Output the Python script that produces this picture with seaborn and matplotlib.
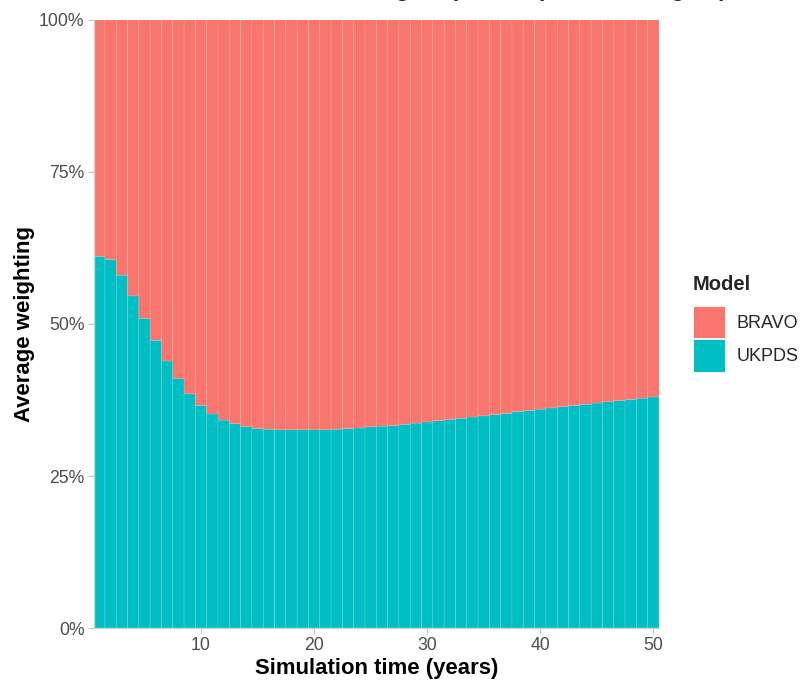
import numpy as np
import pandas as pd
import matplotlib
matplotlib.use("Agg")
import matplotlib.pyplot as plt
from matplotlib.ticker import PercentFormatter
import seaborn as sns

# Simulation years and the average weight given to UKPDS in each year
years = list(range(1, 51))
ukpds_weight = [
    0.611, 0.606, 0.580, 0.546, 0.509, 0.473, 0.439, 0.410, 0.385, 0.366,
    0.352, 0.342, 0.336, 0.331, 0.328, 0.327, 0.326, 0.326, 0.326, 0.326,
    0.326, 0.327, 0.328, 0.329, 0.331, 0.332, 0.333, 0.335, 0.337, 0.339,
    0.341, 0.343, 0.345, 0.347, 0.349, 0.351, 0.353, 0.356, 0.358, 0.360,
    0.362, 0.364, 0.366, 0.368, 0.370, 0.372, 0.374, 0.376, 0.378, 0.380,
]
bravo_weight = [1 - w for w in ukpds_weight]
models = ["BRAVO", "UKPDS"]
colors = {"BRAVO": "#F8766D", "UKPDS": "#00BFC4"}
y_ticks = [0, 0.25, 0.5, 0.75, 1.0]
x_ticks = [10, 20, 30, 40, 50]

df = pd.DataFrame({
    "Year": years * 2,
    "Weight": bravo_weight + ukpds_weight,
    "Model": ["BRAVO"] * len(years) + ["UKPDS"] * len(years),
})

sns.set_theme(style="white")
plt.rcParams["font.family"] = ["Liberation Sans", "DejaVu Sans"]

W, H = 801, 681
fig = plt.figure(figsize=(W / 100, H / 100), dpi=100)
left, right, top, bottom = 93.6, 659.0, 19.5, 628.3
ax = fig.add_axes([left / W, 1 - bottom / H, (right - left) / W, (bottom - top) / H])

sns.histplot(
    data=df, x="Year", weights="Weight", hue="Model", hue_order=models,
    multiple="fill", discrete=True, shrink=1.0, palette=colors, alpha=1,
    edgecolor=(1, 1, 1, 0.15), linewidth=0.5, ax=ax,
)
for p in ax.patches:
    p.set_snap(False)

ax.set_xlim(0.5, 50.5)
ax.set_ylim(0, 1)
ax.set_xticks(x_ticks)
ax.set_yticks(y_ticks)
ax.yaxis.set_major_formatter(PercentFormatter(1, decimals=0))
ax.tick_params(axis="both", which="both", length=4, width=0.8, color="#c4c4c4",
               labelsize=12.7, labelcolor="#4d4d4d", pad=2.5, left=True, bottom=True)

for side in ["top", "right"]:
    ax.spines[side].set_visible(False)
for side in ["left", "bottom"]:
    ax.spines[side].set_color("#d2d2d2")
    ax.spines[side].set_linewidth(1.0)

ax.set_xlabel("Simulation time (years)", fontsize=15.9, fontweight="bold",
              color="black", labelpad=3)
ax.set_ylabel("Average weighting", fontsize=15.9, fontweight="bold",
              color="black", labelpad=3)

sns.move_legend(ax, "upper left", bbox_to_anchor=(693 / W, 1 - 275 / H),
                bbox_transform=fig.transFigure, frameon=False, borderpad=0,
                borderaxespad=0, title="Model", fontsize=13,
                handlelength=1.78, handleheight=2.4,
                labelspacing=0.05, handletextpad=0.65)
leg = ax.get_legend()
leg.get_title().set_fontweight("bold")
leg.get_title().set_fontsize(14.5)
leg._legend_box.align = "left"
leg._legend_box.sep = 8.5
for h in leg.legend_handles:
    h.set_edgecolor("white")
    h.set_linewidth(0.6)

fig.text(727 / W, 1 + 4 / H, "Relative model weights (time-dependent weights)",
         ha="right", va="baseline", fontsize=16.5, fontweight="bold")

fig.savefig("out.png", dpi=100)
